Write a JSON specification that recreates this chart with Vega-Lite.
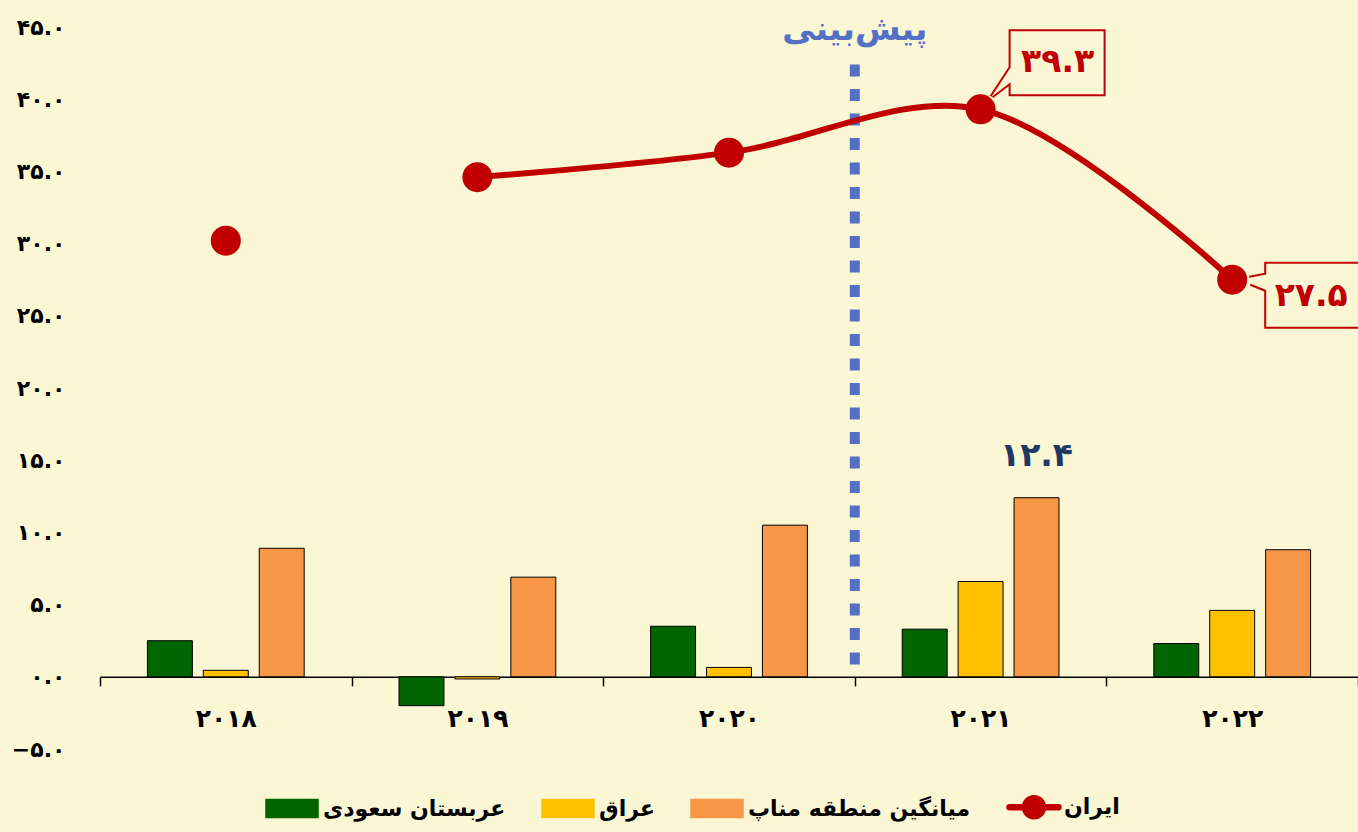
{
  "$schema": "https://vega.github.io/schema/vega-lite/v6.json",
  "width": 1258,
  "height": 722,
  "autosize": {"type": "none"},
  "padding": {"left": 100, "top": 27, "right": 0, "bottom": 83},
  "background": "#FBF7D5",
  "config": {
    "view": {"stroke": null},
    "font": "DejaVu Sans",
    "text": {"font": "DejaVu Sans"}
  },
  "data": {
    "values": [
      {"year": "۲۰۱۸", "series": "عربستان سعودی", "value": 2.5, "label": ""},
      {"year": "۲۰۱۸", "series": "عراق", "value": 0.45, "label": ""},
      {"year": "۲۰۱۸", "series": "میانگین منطقه مناپ", "value": 8.9, "label": ""},
      {"year": "۲۰۱۸", "series": "ایران", "value": 30.2, "label": ""},
      {"year": "۲۰۱۹", "series": "عربستان سعودی", "value": -2.0, "label": ""},
      {"year": "۲۰۱۹", "series": "عراق", "value": -0.15, "label": ""},
      {"year": "۲۰۱۹", "series": "میانگین منطقه مناپ", "value": 6.9, "label": ""},
      {"year": "۲۰۱۹", "series": "ایران", "value": 34.6, "label": ""},
      {"year": "۲۰۲۰", "series": "عربستان سعودی", "value": 3.5, "label": ""},
      {"year": "۲۰۲۰", "series": "عراق", "value": 0.65, "label": ""},
      {"year": "۲۰۲۰", "series": "میانگین منطقه مناپ", "value": 10.5, "label": ""},
      {"year": "۲۰۲۰", "series": "ایران", "value": 36.3, "label": ""},
      {"year": "۲۰۲۱", "series": "عربستان سعودی", "value": 3.3, "label": ""},
      {"year": "۲۰۲۱", "series": "عراق", "value": 6.6, "label": ""},
      {"year": "۲۰۲۱", "series": "میانگین منطقه مناپ", "value": 12.4, "label": "۱۲.۴"},
      {"year": "۲۰۲۱", "series": "ایران", "value": 39.3, "label": "۳۹.۳"},
      {"year": "۲۰۲۲", "series": "عربستان سعودی", "value": 2.3, "label": ""},
      {"year": "۲۰۲۲", "series": "عراق", "value": 4.6, "label": ""},
      {"year": "۲۰۲۲", "series": "میانگین منطقه مناپ", "value": 8.8, "label": ""},
      {"year": "۲۰۲۲", "series": "ایران", "value": 27.5, "label": "۲۷.۵"}
    ]
  },
  "encoding": {
    "x": {
      "field": "year",
      "type": "nominal",
      "sort": ["۲۰۱۸", "۲۰۱۹", "۲۰۲۰", "۲۰۲۱", "۲۰۲۲"],
      "scale": {"paddingInner": 0, "paddingOuter": 0},
      "axis": {
        "title": null,
        "offset": -72.2,
        "domainColor": "#000000",
        "domainWidth": 1.5,
        "tickBand": "extent",
        "tickColor": "#000000",
        "tickSize": 9,
        "tickWidth": 1.5,
        "labelAngle": 0,
        "labelFont": "DejaVu Sans",
        "labelFontWeight": "bold",
        "labelFontSize": 25,
        "labelColor": "#000000",
        "labelPadding": 21,
        "grid": false
      }
    },
    "y": {
      "field": "value",
      "type": "quantitative",
      "scale": {"domain": [-5, 45], "nice": false, "zero": false},
      "axis": {
        "title": null,
        "values": [-5, 0, 5, 10, 15, 20, 25, 30, 35, 40, 45],
        "domain": false,
        "ticks": false,
        "grid": false,
        "labelFont": "DejaVu Sans",
        "labelFontWeight": "bold",
        "labelFontSize": 22,
        "labelColor": "#000000",
        "labelPadding": 35,
        "labelExpr": "join(split(join(split(join(split(join(split(join(split(join(split(format(datum.value,'.1f'),'0'),'۰'),'1'),'۱'),'2'),'۲'),'3'),'۳'),'4'),'۴'),'5'),'۵')"
      }
    }
  },
  "layer": [
    {
      "transform": [{"filter": "datum.series !== 'ایران'"}],
      "mark": {"type": "bar", "stroke": "#000000", "strokeWidth": 1},
      "encoding": {
        "xOffset": {
          "field": "series",
          "type": "nominal",
          "scale": {
            "domain": ["عربستان سعودی", "عراق", "میانگین منطقه مناپ"],
            "paddingInner": 0.196,
            "paddingOuter": 0.848
          }
        },
        "color": {
          "field": "series",
          "type": "nominal",
          "scale": {
            "domain": ["عربستان سعودی", "عراق", "میانگین منطقه مناپ", "ایران"],
            "range": ["#006400", "#FFC000", "#F79646", "#C00000"]
          },
          "legend": {
            "title": null,
            "orient": "none",
            "direction": "horizontal",
            "legendX": 165,
            "legendY": 769,
            "symbolSize": 2500,
            "labelFont": "DejaVu Sans",
            "labelFontWeight": "bold",
            "labelFontSize": 22,
            "labelColor": "#000000",
            "labelOffset": 36,
            "labelLimit": 0,
            "columnPadding": 33,
            "padding": 0,
            "encoding": {
              "symbols": {
                "shape": {
                  "condition": {"test": "datum.value === 'ایران'", "value": "M-7.5,-2.5H41.5A2.5,2.5 0 0,1 41.5,2.5H-7.5A2.5,2.5 0 0,1 -7.5,-2.5Z M5.5,0A11.5,11.5 0 1,1 28.5,0A11.5,11.5 0 1,1 5.5,0Z"},
                  "value": "M-10,-9H42V9H-10Z"
                },
                "size": {"value": 4},
                "opacity": {"value": 1},
                "fillOpacity": {"value": 1},
                "strokeOpacity": {"value": 1},
                "stroke": {
                  "condition": {"test": "datum.value === 'ایران'", "value": "transparent"},
                  "value": "#000000"
                },
                "strokeWidth": {"value": 1.5}
              }
            }
          }
        }
      }
    },
    {
      "data": {"values": [{"year": "۲۰۲۱", "top": 42.4, "bottom": 0}]},
      "mark": {"type": "rule", "color": "#5470C6", "strokeWidth": 10, "strokeDash": [12, 12.5], "strokeCap": "butt"},
      "encoding": {
        "x": {"field": "year", "type": "nominal", "bandPosition": 0},
        "y": {"field": "top", "type": "quantitative"},
        "y2": {"field": "bottom"}
      }
    },
    {
      "data": {"values": [{"year": "۲۰۲۱", "title": "پیش‌بینی", "ty": 44.8}]},
      "mark": {"type": "text", "color": "#5470C6", "font": "DejaVu Sans", "fontWeight": "bold", "fontSize": 33, "baseline": "middle", "align": "center"},
      "encoding": {
        "x": {"field": "year", "type": "nominal", "bandPosition": 0},
        "y": {"field": "ty", "type": "quantitative"},
        "text": {"field": "title"}
      }
    },
    {
      "transform": [{"filter": "datum.series === 'ایران' && datum.year !== '۲۰۱۸'"}],
      "mark": {"type": "line", "interpolate": "catmull-rom", "strokeWidth": 6, "strokeCap": "round"},
      "encoding": {
        "color": {"field": "series", "type": "nominal"}
      }
    },
    {
      "transform": [{"filter": "datum.series === 'ایران'"}],
      "mark": {"type": "point", "filled": true, "size": 900, "opacity": 1},
      "encoding": {
        "color": {"field": "series", "type": "nominal"}
      }
    },
    {
      "transform": [{"filter": "datum.series === 'ایران' && datum.year === '۲۰۲۱'"}],
      "mark": {"type": "point", "filled": false, "opacity": 1, "size": 4, "stroke": "#C00000", "strokeWidth": 2, "shape": "M10,-13L29,-42L29,-79L124,-79L124,-14L29,-14L29,-25L12,-12"}
    },
    {
      "transform": [{"filter": "datum.series === 'ایران' && datum.year === '۲۰۲۲'"}],
      "mark": {"type": "point", "filled": false, "opacity": 1, "size": 4, "stroke": "#C00000", "strokeWidth": 2, "shape": "M17,-3L33,-6L33,-17L128,-17L128,48L33,48L33,11L18,5"}
    },
    {
      "transform": [{"filter": "datum.series === 'ایران' && datum.year === '۲۰۲۱'"}],
      "mark": {"type": "text", "color": "#C00000", "font": "DejaVu Sans", "fontWeight": "bold", "fontSize": 33, "baseline": "middle", "align": "center", "dx": 77, "dy": -47},
      "encoding": {"text": {"field": "label"}}
    },
    {
      "transform": [{"filter": "datum.series === 'ایران' && datum.year === '۲۰۲۲'"}],
      "mark": {"type": "text", "color": "#C00000", "font": "DejaVu Sans", "fontWeight": "bold", "fontSize": 33, "baseline": "middle", "align": "center", "dx": 79, "dy": 16},
      "encoding": {"text": {"field": "label"}}
    },
    {
      "transform": [{"filter": "datum.series === 'میانگین منطقه مناپ' && datum.year === '۲۰۲۱'"}],
      "mark": {"type": "text", "color": "#203864", "font": "DejaVu Sans", "fontWeight": "bold", "fontSize": 33, "baseline": "middle", "align": "center", "dy": -42},
      "encoding": {
        "xOffset": {"field": "series", "type": "nominal"},
        "text": {"field": "label"}
      }
    }
  ]
}
